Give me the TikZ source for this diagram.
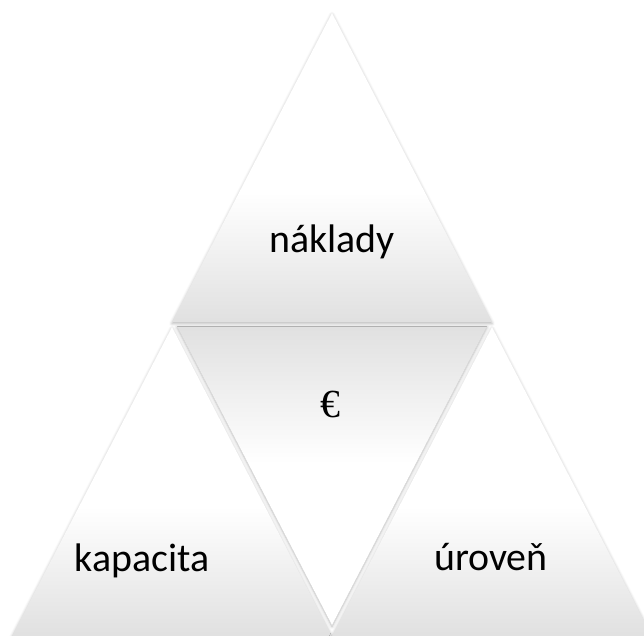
\documentclass[tikz,border=0pt]{standalone}
\usepackage{fontspec}
\setmainfont{Carlito}
\newfontfamily\eurofont{Liberation Serif}
\usetikzlibrary{shadows.blur}
\colorlet{TriGray}{gray!24}
\pgfdeclareverticalshading{triup}{100bp}{color(0bp)=(TriGray); color(25bp)=(TriGray); color(46bp)=(white); color(100bp)=(white)}
\pgfdeclareverticalshading{tridown}{100bp}{color(0bp)=(white); color(52bp)=(white); color(75bp)=(TriGray); color(100bp)=(TriGray)}
\tikzset{
  tri/.style={shading=triup, blur shadow={shadow xshift=0bp, shadow yshift=-1.5bp, shadow blur radius=3bp, shadow opacity=30}},
  trirev/.style={shading=tridown, blur shadow={shadow xshift=0bp, shadow yshift=-1.5bp, shadow blur radius=3bp, shadow opacity=30}},
  trilabel/.style={font=\fontsize{40}{48}\selectfont, anchor=base, inner sep=0pt}
}
\begin{document}
\begin{tikzpicture}[x=1bp,y=-1bp]
    \useasboundingbox (0,0) rectangle (644,636);
    \clip (0,0) rectangle (644,636);
    \coordinate (TopApex)   at (332,13);
    \coordinate (TopLeft)   at (172,322);
    \coordinate (TopRight)  at (492,322);
    \coordinate (MidLeft)   at (177,326);
    \coordinate (MidRight)  at (487,326);
    \coordinate (MidTip)    at (332,625);
    \coordinate (LeftApex)  at (172,327);
    \coordinate (LeftMin)   at (12,636);
    \coordinate (LeftMax)   at (332,636);
    \coordinate (RightApex) at (492,327);
    \coordinate (RightMin)  at (332,636);
    \coordinate (RightMax)  at (652,636);
    \shade [trirev] (MidLeft) -- (MidRight) -- (MidTip) -- cycle;% Draw middle
    \shade [tri] (TopApex) -- (TopRight) -- (TopLeft) -- cycle;% Draw top
    \shade [tri] (LeftApex) -- (LeftMax) -- (LeftMin) -- cycle;% Draw left
    \shade [tri] (RightApex) -- (RightMax) -- (RightMin) -- cycle;% Draw right

    \node [trilabel] (Naklady)  at (332,252) {náklady};
    \node [trilabel] (Euro)     at (330,417) {\eurofont €};
    \node [trilabel] (Kapacita) at (142,571) {kapacita};
    \node [trilabel] (Uroven)   at (491,570) {úroveň};

  \end{tikzpicture}
\end{document}
